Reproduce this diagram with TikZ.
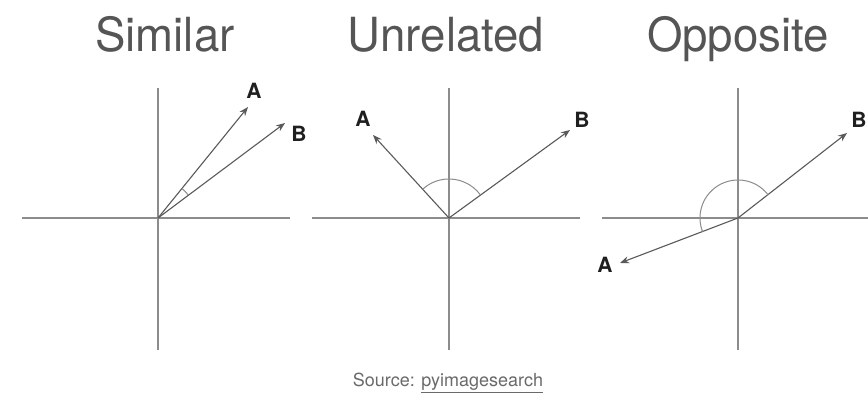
\documentclass[tikz,border=0pt]{standalone}
\usepackage{fontspec}
\setmainfont{TeX Gyre Heros}
\usetikzlibrary{arrows.meta,calc}
\definecolor{axisgray}{HTML}{8C8C8C}
\definecolor{vecgray}{HTML}{5A5A5A}
\definecolor{titlegray}{HTML}{555555}
\definecolor{srcgray}{HTML}{6A6A6A}
\tikzset{
  axis/.style={draw=axisgray, line width=1.1pt},
  vec/.style={draw=vecgray, line width=1.1pt, -{Stealth[length=9pt,width=7pt]}},
  anglearc/.style={draw=axisgray, line width=1pt},
  title/.style={text=titlegray, font=\fontsize{47}{47}\selectfont, anchor=base, xscale=0.97, inner sep=0pt},
  lbl/.style={text=black!88, font=\fontsize{21}{21}\selectfont\bfseries, inner sep=0pt},
  src/.style={text=srcgray, font=\fontsize{18}{18}\selectfont, anchor=base, inner sep=0pt}
}
\begin{document}
\begin{tikzpicture}[x=1pt,y=1pt]
\useasboundingbox[fill=white] (0,0) rectangle (868,398);
% titles
\node[title] (t1) at (165,346) {Similar};
\node[title] (t2) at (446,346) {Unrelated};
\node[title] (t3) at (738,346) {Opposite};
% panel 1
\coordinate (O1) at (158,180);
\coordinate (h1a) at (22,180); \coordinate (h1b) at (290,180);
\coordinate (v1a) at (158,48); \coordinate (v1b) at (158,310);
\coordinate (A1) at (248,291); \coordinate (B1) at (285,275);
\draw[axis] (h1a) -- (h1b);
\draw[axis] (v1a) -- (v1b);
\draw[vec] (O1) -- (A1);
\draw[vec] (O1) -- (B1);
\draw[anglearc] ($(O1)+(37:38)$) arc[start angle=37, end angle=51, radius=38];
\node[lbl] (la1) at (254,307) {A};
\node[lbl] (lb1) at (299,264) {B};
% panel 2
\coordinate (O2) at (449,180);
\coordinate (h2a) at (312,180); \coordinate (h2b) at (580,180);
\coordinate (v2a) at (449,48); \coordinate (v2b) at (449,310);
\coordinate (A2) at (373,263); \coordinate (B2) at (570,268);
\draw[axis] (h2a) -- (h2b);
\draw[axis] (v2a) -- (v2b);
\draw[vec] (O2) -- (A2);
\draw[vec] (O2) -- (B2);
\draw[anglearc] ($(O2)+(36:39)$) arc[start angle=36, end angle=132.5, radius=39];
\node[lbl] (la2) at (363,279) {A};
\node[lbl] (lb2) at (582,278) {B};
% panel 3
\coordinate (O3) at (738,180);
\coordinate (h3a) at (602,180); \coordinate (h3b) at (868,180);
\coordinate (v3a) at (738,48); \coordinate (v3b) at (738,310);
\coordinate (A3) at (620,135); \coordinate (B3) at (847,265);
\draw[axis] (h3a) -- (h3b);
\draw[axis] (v3a) -- (v3b);
\draw[vec] (O3) -- (A3);
\draw[vec] (O3) -- (B3);
\draw[anglearc] ($(O3)+(38:38)$) arc[start angle=38, end angle=201, radius=38];
\node[lbl] (la3) at (605,133) {A};
\node[lbl] (lb3) at (859,278) {B};
% source
\node[src] (s) at (448,11) {Source: \underline{pyimagesearch}};
\end{tikzpicture}
\end{document}
